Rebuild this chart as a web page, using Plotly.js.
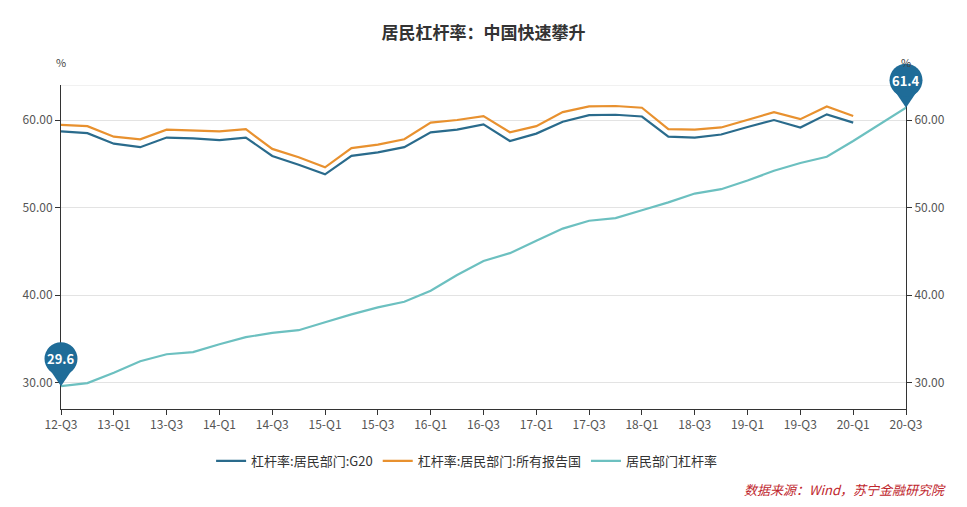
<!DOCTYPE html>
<html>
<head>
<meta charset="utf-8">
<script src="https://cdn.plot.ly/plotly-3.0.1.min.js"></script>
<style>html,body{margin:0;padding:0;background:#fff;}#chart{width:967px;height:507px;}</style>
</head>
<body>
<div id="chart"></div>
<script>
const categories = ["12-Q3","12-Q4","13-Q1","13-Q2","13-Q3","13-Q4","14-Q1","14-Q2","14-Q3","14-Q4",
  "15-Q1","15-Q2","15-Q3","15-Q4","16-Q1","16-Q2","16-Q3","16-Q4","17-Q1","17-Q2","17-Q3","17-Q4",
  "18-Q1","18-Q2","18-Q3","18-Q4","19-Q1","19-Q2","19-Q3","19-Q4","20-Q1","20-Q2","20-Q3"];
const tickLabels = ["12-Q3","13-Q1","13-Q3","14-Q1","14-Q3","15-Q1","15-Q3","16-Q1","16-Q3",
  "17-Q1","17-Q3","18-Q1","18-Q3","19-Q1","19-Q3","20-Q1","20-Q3"];
const g20 = [58.7,58.5,57.3,56.9,58.0,57.9,57.7,58.0,55.9,54.9,53.8,55.9,56.3,56.9,58.6,58.9,59.5,
  57.6,58.45,59.8,60.55,60.6,60.4,58.1,58.0,58.35,59.2,60.0,59.15,60.65,59.7];
const allReporting = [59.45,59.3,58.1,57.8,58.9,58.8,58.7,58.95,56.7,55.75,54.6,56.8,57.2,57.8,59.7,
  60.0,60.45,58.6,59.3,60.9,61.55,61.6,61.4,58.95,58.9,59.15,60.0,60.9,60.1,61.55,60.45];
const china = [29.6,29.96,31.15,32.45,33.25,33.5,34.4,35.2,35.7,36.0,36.9,37.8,38.6,39.25,40.5,
  42.3,43.9,44.8,46.2,47.6,48.5,48.8,49.7,50.6,51.6,52.1,53.1,54.2,55.1,55.8,57.6,59.5,61.4];
const seriesNames = ["杠杆率:居民部门:G20","杠杆率:居民部门:所有报告国","居民部门杠杆率"];
const colors = ["#2a6b8c","#e8912f","#6cc0c0"];
const pinColor = "#1f6c98";
const titleText = "居民杠杆率：中国快速攀升";
const sourceText = "数据来源：Wind，苏宁金融研究院";
const yMin = 27, yMax = 64;

const FONT = '"Noto Sans CJK SC", "Microsoft YaHei", sans-serif';

const traces = [
  {x: categories.slice(0, g20.length), y: g20, name: seriesNames[0], type: 'scatter', mode: 'lines',
   line: {color: colors[0], width: 2.2}, yaxis: 'y'},
  {x: categories.slice(0, allReporting.length), y: allReporting, name: seriesNames[1], type: 'scatter', mode: 'lines',
   line: {color: colors[1], width: 2.2}, yaxis: 'y'},
  {x: categories, y: china, name: seriesNames[2], type: 'scatter', mode: 'lines',
   line: {color: colors[2], width: 2.2}, yaxis: 'y2'}
];

// Pin markers: anchored at the data point (converted to axis-domain fractions from the axis range),
// drawn with domain refs so they are not clipped by the plot area.
function pin(idx, yVal) {
  const ax = idx / (categories.length - 1);
  const ay = (yVal - yMin) / (yMax - yMin);
  return [
    {type: 'path', xref: 'x domain', yref: 'y domain', xsizemode: 'pixel', ysizemode: 'pixel',
     xanchor: ax, yanchor: ay, path: 'M 0 0 L -13.6 20.2 L 13.6 20.2 Z',
     fillcolor: pinColor, line: {width: 0}, layer: 'above'},
    {type: 'circle', xref: 'x domain', yref: 'y domain', xsizemode: 'pixel', ysizemode: 'pixel',
     xanchor: ax, yanchor: ay, x0: -16.5, x1: 16.5, y0: 11, y1: 44,
     fillcolor: pinColor, line: {width: 0}, layer: 'above'}
  ];
}
const firstIdx = 0, lastIdx = china.length - 1;
const shapes = [
  {type: 'line', xref: 'paper', yref: 'y', x0: 0, x1: 1, y0: yMax, y1: yMax,
   line: {color: '#e3e3e3', width: 1}, layer: 'below'},
  ...pin(firstIdx, china[firstIdx]),
  ...pin(lastIdx, china[lastIdx])
];

const annotations = [
  {xref: 'paper', yref: 'paper', x: 0, y: 1.071, xanchor: 'center', yanchor: 'middle', showarrow: false,
   text: '%', font: {family: FONT, size: 11, color: '#444'}},
  {xref: 'paper', yref: 'paper', x: 1, y: 1.071, xanchor: 'center', yanchor: 'middle', showarrow: false,
   text: '%', font: {family: FONT, size: 11, color: '#444'}},
  {xref: 'x', yref: 'y2', x: categories[firstIdx], y: china[firstIdx], yshift: 27.5, showarrow: false,
   text: '<b>' + china[firstIdx].toFixed(1) + '</b>', font: {family: FONT, size: 13, color: '#fff'}},
  {xref: 'x', yref: 'y2', x: categories[lastIdx], y: china[lastIdx], yshift: 27.5, showarrow: false,
   text: '<b>' + china[lastIdx].toFixed(1) + '</b>', font: {family: FONT, size: 13, color: '#fff'}},
  {xref: 'paper', yref: 'paper', x: 1.05, y: -0.247, xanchor: 'right', yanchor: 'middle', showarrow: false,
   text: '<i>' + sourceText + '</i>', font: {family: FONT, size: 13, color: '#c0262d'}}
];

const yCommon = {
  range: [yMin, yMax], tickvals: [30, 40, 50, 60], tickformat: '.2f',
  ticks: 'outside', ticklen: 5, tickcolor: '#333', showline: true, linecolor: '#333', linewidth: 1,
  zeroline: false, tickfont: {family: FONT, size: 12, color: '#555'}, fixedrange: true
};

const layout = {
  width: 967, height: 507,
  margin: {l: 61, r: 61, t: 85, b: 98},
  paper_bgcolor: '#fff', plot_bgcolor: '#fff',
  title: {text: '<b>' + titleText + '</b>', x: 0.5, xanchor: 'center', y: 0.935, yanchor: 'middle',
          font: {family: FONT, size: 17, color: '#333'}},
  xaxis: {type: 'category', categoryorder: 'array', categoryarray: categories, range: [0, categories.length - 1],
          tickvals: tickLabels, ticktext: tickLabels, ticks: 'outside', ticklen: 5, tickcolor: '#333',
          showline: true, linecolor: '#333', linewidth: 1, showgrid: false, zeroline: false,
          tickangle: 0, tickfont: {family: FONT, size: 12, color: '#555'}},
  yaxis: Object.assign({}, yCommon, {side: 'left', showgrid: true, gridcolor: '#e3e3e3'}),
  yaxis2: Object.assign({}, yCommon, {side: 'right', overlaying: 'y', showgrid: false}),
  showlegend: true,
  legend: {orientation: 'h', x: 0.48, xanchor: 'center', y: -0.16, yanchor: 'middle',
           font: {family: FONT, size: 13, color: '#333'}, itemwidth: 30, traceorder: 'normal'},
  shapes: shapes,
  annotations: annotations
};

Plotly.newPlot('chart', traces, layout, {displayModeBar: false, staticPlot: true});
</script>
</body>
</html>
